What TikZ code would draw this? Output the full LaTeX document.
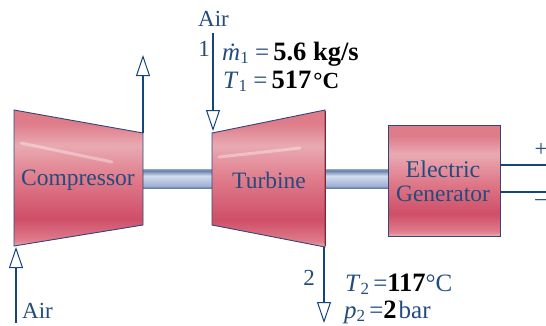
\documentclass[tikz,border=0pt]{standalone}
\usepackage{fontspec}
\setmainfont{Liberation Serif}
\usetikzlibrary{arrows.meta,calc}
\definecolor{ink}{RGB}{35,75,125}
\definecolor{wire}{RGB}{20,70,125}
\definecolor{edgeblue}{RGB}{50,70,125}
\definecolor{rA}{RGB}{236,170,180}
\definecolor{rB}{RGB}{206,78,104}
\definecolor{rC}{RGB}{224,124,140}
\definecolor{rD}{RGB}{233,170,178}
\definecolor{rE}{RGB}{222,124,138}
\definecolor{sA}{RGB}{105,125,170}
\definecolor{sB}{RGB}{160,178,215}
\definecolor{sC}{RGB}{212,220,238}
\definecolor{sD}{RGB}{145,165,200}
\pgfdeclareverticalshading{redbody}{100bp}{
 color(0bp)=(rA); color(25bp)=(rA); color(27bp)=(rC); color(35bp)=(rB); color(50bp)=(rC); color(62bp)=(rD); color(70bp)=(rE); color(75bp)=(rE); color(100bp)=(rE)}
\pgfdeclareverticalshading{shaft}{100bp}{
 color(0bp)=(sA); color(25bp)=(sA); color(31bp)=(sB); color(57bp)=(sC); color(65bp)=(sD); color(71bp)=(sA); color(75bp)=(sD); color(100bp)=(sD)}
\tikzset{
 body/.style={shading=redbody,draw=edgeblue,line width=0.9pt},
 shaftbar/.style={shading=shaft},
 streak/.style={line width=3pt,white,opacity=0.35,line cap=round},
 flow/.style={wire,line width=1.1pt,-{Triangle[open,fill=white,length=21pt,width=14pt,line width=1pt]}},
 lead/.style={wire,line width=2.2pt},
 lab/.style={ink,font=\fontsize{23.5}{24}\selectfont,inner sep=0pt},
 tiny/.style={ink,font=\fontsize{23}{24}\selectfont,inner sep=0pt},
 val/.style={ink,font=\fontsize{25}{24}\selectfont,inner sep=0pt,anchor=base west}
}
\newcommand{\vb}[1]{\textbf{\textcolor{black}{\fontsize{26.5}{24}\selectfont #1}}}
\newcommand{\sbs}[1]{\raisebox{-3.5pt}{\fontsize{17}{17}\selectfont #1}}
\begin{document}
\begin{tikzpicture}[x=1pt,y=-1pt]
\useasboundingbox (0,0) rectangle (546,325);
% shafts
\path[shaftbar] (143,169) rectangle (212,188);
\path[shaftbar] (325,169) rectangle (388,188);
% bodies
\path[body] (14,110) -- (143,133) -- (143,225) -- (14,246) -- cycle;
\path[body] (212,133) -- (325,110) -- (325,247) -- (212,225) -- cycle;
\path[body] (388,125) rectangle (500,236);
\draw[streak] (21,143) -- (112,162);
\draw[streak] (219,157) -- (300,148);
\draw[line width=1pt,red!60!black!90] (325,111) -- (325,246);
% labels on bodies
\node[lab] (comp) at (78,180) {Compressor};
\node[lab] (turb) at (269,180) {Turbine};
\node[lab,align=center] (gen) at (443,181) {\fontsize{24}{27}\selectfont Electric\\Generator};
% flow ends
\coordinate (cIn) at (16,323);
\coordinate (cInTip) at (16,247);
\coordinate (cOutBase) at (143,133);
\coordinate (cOutTip) at (143,55);
\coordinate (tInBase) at (213,33);
\coordinate (tInTip) at (213,131);
\coordinate (tOutBase) at (324,247);
\coordinate (tOutTip) at (324,323);
\draw[flow] (cIn) -- (cInTip);
\draw[flow] (cOutBase) -- (cOutTip);
\draw[flow] (tInBase) -- (tInTip);
\draw[flow] (tOutBase) -- (tOutTip);
% generator leads
\coordinate (pEnd) at (546,165);
\coordinate (mEnd) at (546,192);
\coordinate (pStart) at (500,165);
\coordinate (mStart) at (500,192);
\draw[lead] (pStart) -- (pEnd);
\draw[lead] (mStart) -- (mEnd);
% texts
\node[tiny] (airTop) at (213.5,19) {Air};
\node[tiny] (airBot) at (37.5,311) {Air};
\node[tiny] (one) at (204,49) {1};
\node[tiny] (two) at (309,278) {2};
\node[tiny] (plus) at (541,150) {+};
\node[tiny] (minus) at (541,203) {–};
\node[val] (m1) at (222,60) {\textit{ṁ}\sbs{1} = \kern-2pt\vb{5.6 kg/s}};
\node[val] (t1) at (223,88) {\textit{T}\sbs{1} = \kern-2pt\vb{517\kern2pt\fontsize{23}{24}\selectfont °C}};
\node[val] (t2) at (345,291) {\textit{T}\sbs{2}\,=\vb{117}°C};
\node[val] (p2) at (344,318) {\textit{p}\sbs{2}\,=\vb{2}\kern2pt bar};
\end{tikzpicture}
\end{document}
